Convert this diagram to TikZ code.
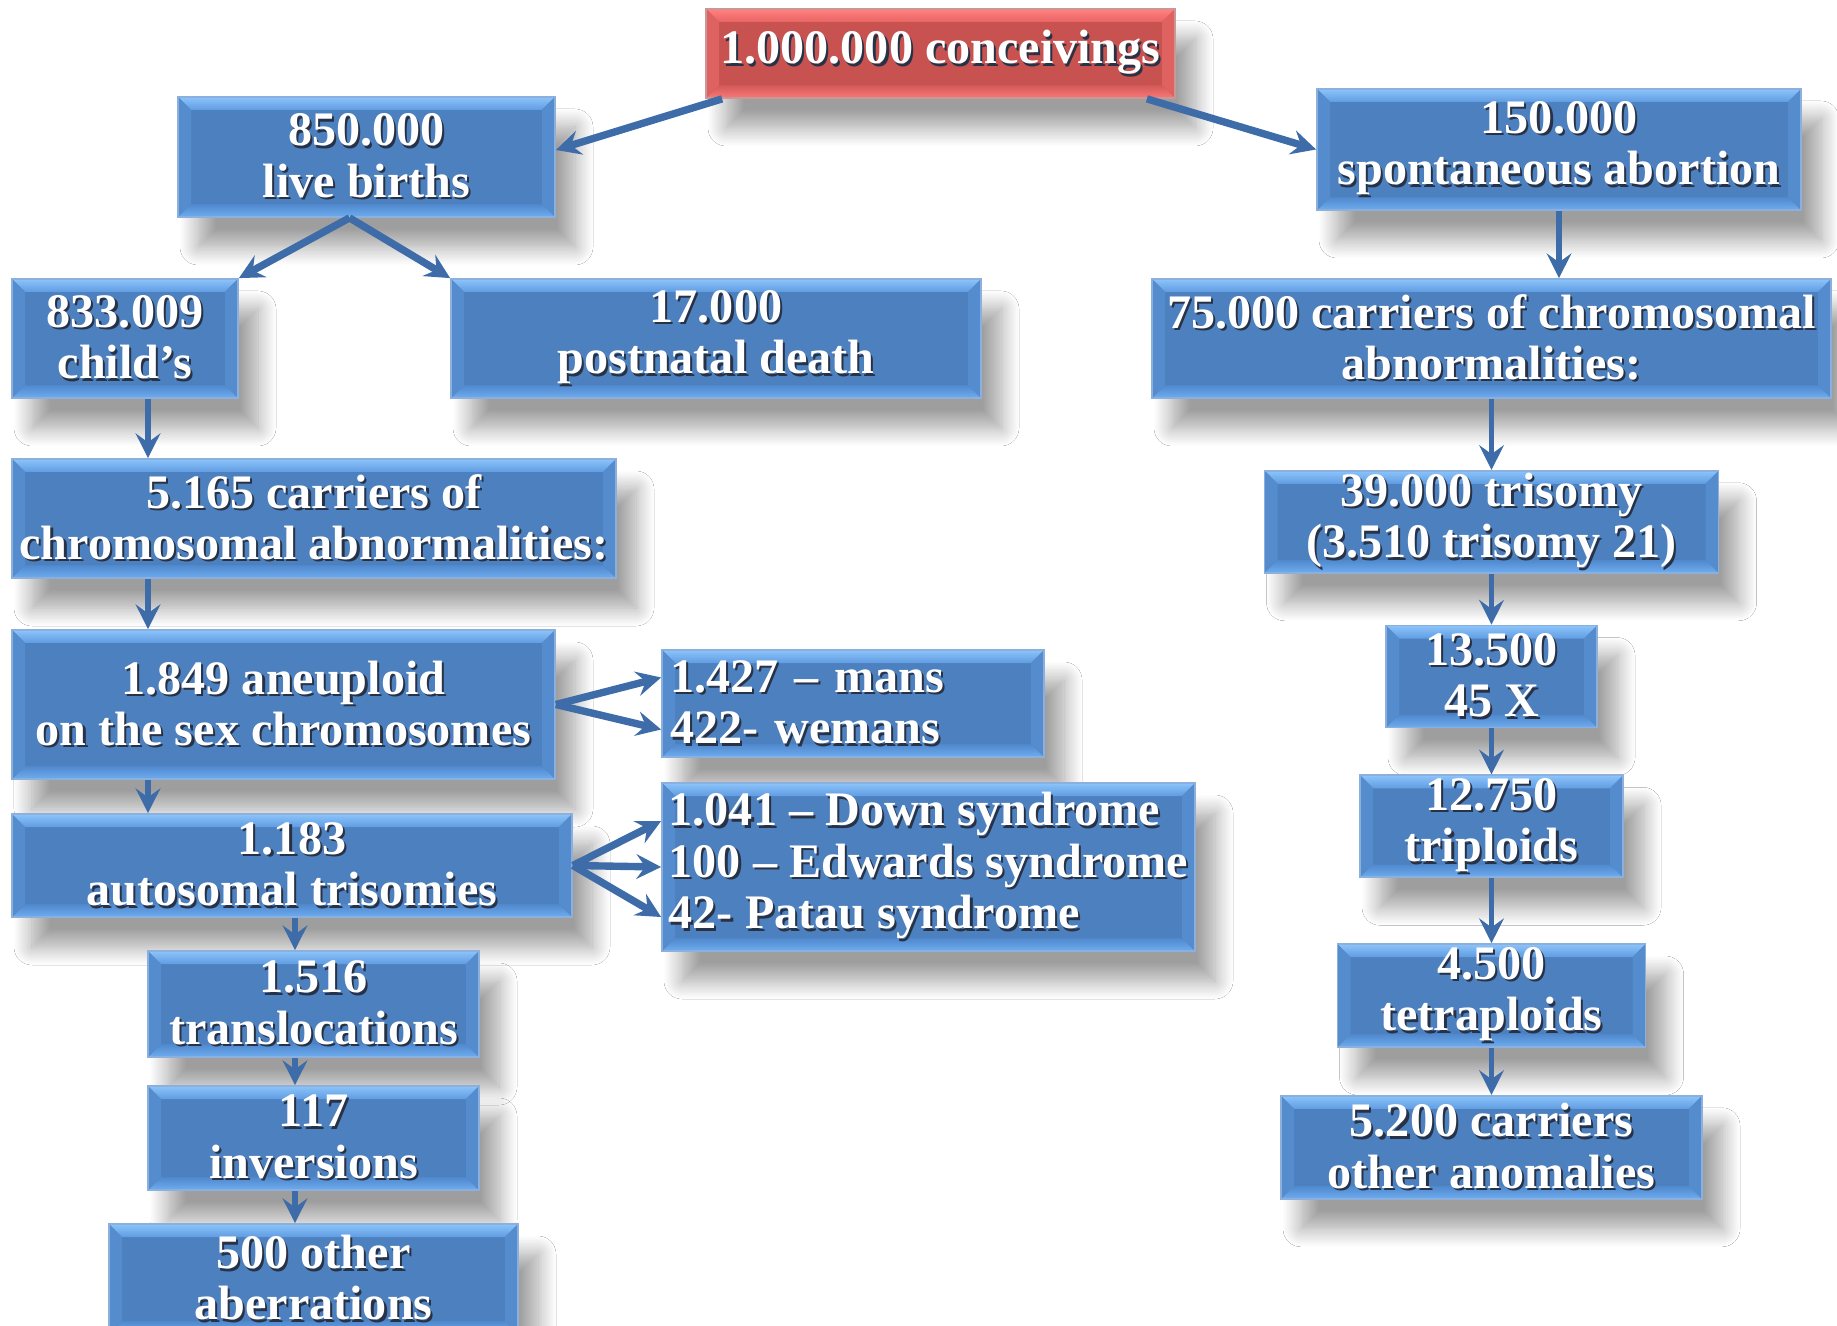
\documentclass[tikz,border=0pt]{standalone}
\usepackage{fontspec}
\setmainfont{Liberation Serif}
\usetikzlibrary{positioning, shapes, arrows.meta, calc, shadows.blur}

\definecolor{boxblue}{RGB}{77,128,190}
\definecolor{bevtopA}{RGB}{140,196,250}
\definecolor{bevtopB}{RGB}{96,156,226}
\definecolor{bevbotA}{RGB}{80,136,204}
\definecolor{bevbotB}{RGB}{110,172,240}
\definecolor{bevside}{RGB}{84,140,206}
\definecolor{edgeblue}{RGB}{140,176,222}
\definecolor{boxred}{RGB}{200,82,80}
\definecolor{redtopA}{RGB}{255,130,128}
\definecolor{redtopB}{RGB}{232,100,100}
\definecolor{redbotA}{RGB}{210,88,88}
\definecolor{redbotB}{RGB}{250,120,118}
\definecolor{redside}{RGB}{222,98,96}
\definecolor{rededge}{RGB}{205,150,150}
\definecolor{linkblue}{RGB}{62,108,168}
\definecolor{textshade}{RGB}{40,50,70}

\newcommand\bevw{0.13}
\newcommand\tsh[1]{\leavevmode\rlap{\hspace{0.6pt}\raisebox{-0.7pt}{\textcolor{textshade}{#1}}}#1}

\tikzset{
  bevel/.style n args={5}{path picture={
    \coordinate (bsw) at (path picture bounding box.south west);
    \coordinate (bne) at (path picture bounding box.north east);
    \shade[top color=#1, bottom color=#2] (bsw |- bne) -- (bne) -- ($(bne)+(-\bevw,-\bevw)$) -- ($(bsw |- bne)+(\bevw,-\bevw)$) -- cycle;
    \shade[top color=#3, bottom color=#4] (bsw) -- (bne |- bsw) -- ($(bne |- bsw)+(-\bevw,\bevw)$) -- ($(bsw)+(\bevw,\bevw)$) -- cycle;
    \fill[#5] (bsw) -- (bsw |- bne) -- ($(bsw |- bne)+(\bevw,-\bevw)$) -- ($(bsw)+(\bevw,\bevw)$) -- cycle;
    \fill[#5] (bne) -- (bne |- bsw) -- ($(bne |- bsw)+(-\bevw,\bevw)$) -- ($(bne)+(-\bevw,-\bevw)$) -- cycle;
  }}
}

\begin{document}
\begin{tikzpicture}[
      box/.style={rectangle, draw=edgeblue, line width=0.5pt, fill=boxblue, text=white, inner sep=0pt, align=center,
        font=\bfseries\fontsize{13.7}{14.6}\selectfont,
        blur shadow={shadow xshift=0.2cm, shadow yshift=-0.3cm, shadow blur radius=0.18cm, shadow blur steps=16, shadow opacity=38},
        bevel={bevtopA}{bevtopB}{bevbotA}{bevbotB}{bevside}},
      redbox/.style={box, draw=rededge, fill=boxred, bevel={redtopA}{redtopB}{redbotA}{redbotB}{redside}},
      link/.style={-{Stealth[length=7pt, width=7pt, inset=2.5pt]}, line width=1.6pt, draw=linkblue},
      thicklink/.style={link, line width=2.1pt}
      ]
      \fill[white] (0,0) rectangle (18.37,-13.26);
      \useasboundingbox (0,0) rectangle (18.37,-13.26);

      \node[redbox, minimum width=4.69cm, minimum height=0.89cm] (conceive) at (9.405,-0.535) {\tsh{1.000.000 conceivings}};
      \node[box, minimum width=3.77cm, minimum height=1.20cm] (live) at (3.665,-1.57) {\tsh{850.000}\\\tsh{live births}};
      \node[box, minimum width=4.84cm, minimum height=1.21cm] (abort) at (15.59,-1.495) {\tsh{150.000}\\\tsh{spontaneous abortion}};
      \node[box, minimum width=2.26cm, minimum height=1.19cm] (child) at (1.25,-3.385) {\tsh{833.009}\\\tsh{child's}};
      \node[box, minimum width=5.30cm, minimum height=1.19cm] (death) at (7.16,-3.385) {\tsh{17.000}\\\tsh{postnatal death}};
      \node[box, minimum width=6.79cm, minimum height=1.19cm] (carr75) at (14.915,-3.385) {\tsh{75.000 carriers of chromosomal}\\\tsh{abnormalities:}};
      \node[box, minimum width=6.04cm, minimum height=1.19cm] (carr5) at (3.14,-5.185) {\tsh{5.165 carriers of}\\\tsh{chromosomal abnormalities:}};
      \node[box, minimum width=4.54cm, minimum height=1.02cm, below=0.71cm of carr75] (tri39) {\tsh{39.000 trisomy}\\\tsh{(3.510 trisomy 21)}};
      \node[box, minimum width=5.43cm, minimum height=1.49cm] (aneu) at (2.835,-7.045) {\tsh{1.849 aneuploid}\\\tsh{on the sex chromosomes}};
      \node[box, minimum width=3.82cm, minimum height=1.07cm, align=left, text width=3.66cm] (mans) at (8.53,-7.035) {\tsh{1.427 – mans}\\\tsh{422- wemans}};
      \node[box, minimum width=2.11cm, minimum height=1.02cm, below=0.51cm of tri39] (x45) {\tsh{13.500}\\\tsh{45 X}};
      \node[box, minimum width=5.60cm, minimum height=1.03cm] (auto) at (2.92,-8.655) {\tsh{1.183}\\\tsh{autosomal trisomies}};
      \node[box, minimum width=5.33cm, minimum height=1.68cm, align=left] (down) at (9.285,-8.67) {\tsh{1.041 – Down syndrome}\\\tsh{100 – Edwards syndrome}\\\tsh{42- Patau syndrome}};
      \node[box, minimum width=2.63cm, minimum height=1.02cm, below=0.46cm of x45] (trip) {\tsh{12.750}\\\tsh{triploids}};
      \node[box, minimum width=3.31cm, minimum height=1.06cm] (transl) at (3.135,-10.04) {\tsh{1.516}\\\tsh{translocations}};
      \node[box, minimum width=3.08cm, minimum height=1.03cm, below=0.65cm of trip] (tetra) {\tsh{4.500}\\\tsh{tetraploids}};
      \node[box, minimum width=3.31cm, minimum height=1.04cm] (inv) at (3.135,-11.38) {\tsh{117}\\\tsh{inversions}};
      \node[box, minimum width=4.21cm, minimum height=1.03cm, below=0.47cm of tetra] (carr52) {\tsh{5.200 carriers}\\\tsh{other anomalies}};
      \node[box, minimum width=4.09cm, minimum height=1.10cm] (other) at (3.135,-12.79) {\tsh{500 other}\\\tsh{aberrations}};

      \coordinate (colA) at (1.48,0);
      \coordinate (colB) at (2.95,0);

      \draw[thicklink] ([xshift=0.17cm]conceive.south west) -- ([yshift=0.07cm]live.east);
      \draw[thicklink] ([xshift=-0.29cm]conceive.south east) -- (abort.west);
      \draw[thicklink] ([xshift=-0.17cm]live.south) -- (child.north east);
      \draw[thicklink] ([xshift=-0.17cm]live.south) -- (death.north west);

      \draw[link] (abort.south) -- (abort.south |- carr75.north);
      \draw[link] (carr75.south) -- (tri39.north);
      \draw[link] (tri39.south) -- (x45.north);
      \draw[link] (x45.south) -- (trip.north);
      \draw[link] (trip.south) -- (tetra.north);
      \draw[link] (tetra.south) -- (carr52.north);

      \draw[link] (child.south -| colA) -- (carr5.north -| colA);
      \draw[link] (carr5.south -| colA) -- (aneu.north -| colA);
      \draw[link] (aneu.south -| colA) -- (auto.north -| colA);
      \draw[link] (auto.south -| colB) -- (transl.north -| colB);
      \draw[link] (transl.south -| colB) -- (inv.north -| colB);
      \draw[link] (inv.south -| colB) -- (other.north -| colB);

      \draw[thicklink] (aneu.east) -- ([yshift=0.26cm]mans.west);
      \draw[thicklink] (aneu.east) -- ([yshift=-0.26cm]mans.west);
      \foreach \dy in {0.46,0,-0.5}
        \draw[thicklink] (auto.east) -- ([yshift=\dy cm]down.west);
\end{tikzpicture}
\end{document}
